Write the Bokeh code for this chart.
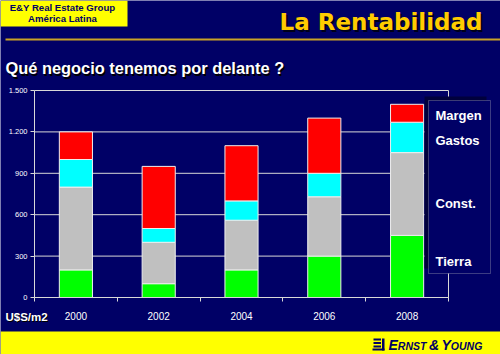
from bokeh.plotting import figure
from bokeh.models import (Range1d, LinearAxis, FixedTicker, Label, BoxAnnotation,
                          ColumnDataSource)
from bokeh.embed import file_html
from bokeh.resources import INLINE

# ---- data ----
years = ["2000", "2002", "2004", "2006", "2008"]
tierra = [200, 100, 200, 300, 450]
const = [600, 300, 360, 430, 600]
gastos = [200, 100, 140, 170, 220]
margen = [200, 450, 400, 400, 130]
series = ["Tierra", "Const.", "Gastos", "Margen"]
colors = ["#00FF00", "#C0C0C0", "#00FFFF", "#FF0000"]
y_ticks = [0, 300, 600, 900, 1200, 1500]
y_tick_labels = ["0", "300", "600", "900", "1.200", "1.500"]
title = "La Rentabilidad"
subtitle = "Qué negocio tenemos por delante ?"
header = ["E&Y Real Estate Group", "América Latina"]
unit_label = "U$S/m2"
brand_parts = ["E", "RNST", "&", "Y", "OUNG"]

NAVY = "#000066"
GRID = "#d8d8d8"

# ---- layout (pixels) ----
W, H = 500, 354
PL, PR, PT, PB = 34, 448, 90, 297          # plot area on the canvas
n = len(years)
ymax = y_ticks[-1]
px_per_cat = (PR - PL) / n
px_per_unit = (PB - PT) / ymax
x_range = Range1d(-0.5 - PL / px_per_cat, -0.5 + (W - PL) / px_per_cat)
y_range = Range1d(-(H - PB) / px_per_unit, ymax + PT / px_per_unit)

x_pos = list(range(n))
src = ColumnDataSource(dict(x=x_pos, **{"Tierra": tierra, "Const.": const,
                                         "Gastos": gastos, "Margen": margen}))

p = figure(width=W, height=H, output_backend="svg", toolbar_location=None,
           x_range=x_range, y_range=y_range, min_border=0,
           background_fill_color=NAVY, border_fill_color=NAVY,
           outline_line_color=None, x_axis_type=None, y_axis_type=None)

# grid lines and plot-area border
p.segment(x0=-0.5, x1=n - 0.5, y0=y_ticks, y1=y_ticks, line_color=GRID, line_width=1)
p.segment(x0=n - 0.5, x1=n - 0.5, y0=0, y1=ymax, line_color=GRID, line_width=1)

# bars
p.vbar_stack(series, x="x", width=0.4, fill_color=colors, line_color="#eeeeee",
             line_width=1, source=src)

# axes
yticker = FixedTicker(ticks=y_ticks)
yaxis = LinearAxis(ticker=yticker, fixed_location=-0.5, bounds=(0, ymax),
                   major_label_overrides={t: l for t, l in zip(y_ticks, y_tick_labels)},
                   axis_line_color=GRID, major_tick_line_color=GRID,
                   major_tick_out=4, major_tick_in=0, minor_tick_line_color=None,
                   major_label_text_color="white", major_label_text_font_size="7.5px",
                   major_label_text_font="Liberation Sans", major_label_standoff=3)
p.add_layout(yaxis, "left")

xticker = FixedTicker(ticks=x_pos, minor_ticks=[i - 0.5 for i in range(n + 1)])
xaxis = LinearAxis(ticker=xticker, fixed_location=0, bounds=(-0.5, n - 0.5),
                   major_label_overrides={i: y for i, y in zip(x_pos, years)},
                   axis_line_color=GRID, major_tick_line_color=None,
                   major_tick_out=0, major_tick_in=0,
                   minor_tick_line_color=GRID, minor_tick_out=4, minor_tick_in=0,
                   major_label_text_color="white", major_label_text_font_size="10px",
                   major_label_text_font="Liberation Sans", major_label_standoff=10)
p.add_layout(xaxis, "below")

C = dict(x_units="canvas", y_units="canvas")
B = dict(left_units="canvas", right_units="canvas", top_units="canvas", bottom_units="canvas")


def box(l, r, t, b, color, **kw):
    p.add_layout(BoxAnnotation(left=l, right=r, top=t, bottom=b, fill_color=color,
                               fill_alpha=1, line_color=kw.pop("line_color", None), **kw, **B))


# header box
box(0, 127, 0, 26, "#FFFF00")
for txt, yy in zip(header, [7, 18]):
    p.add_layout(Label(x=62, y=yy, text=txt, text_align="center", text_baseline="middle",
                       text_font="Liberation Sans", text_font_style="bold",
                       text_font_size="9.6px", text_color=NAVY, **C))

# title with shadow
p.add_layout(Label(x=484, y=23, text=title, text_align="right", text_baseline="alphabetic",
                   text_font="DejaVu Sans", text_font_style="bold", text_font_size="23px",
                   text_color="#00001a", **C))
p.add_layout(Label(x=482, y=21, text=title, text_align="right", text_baseline="alphabetic",
                   text_font="DejaVu Sans", text_font_style="bold", text_font_size="23px",
                   text_color="#FFCC00", **C))

# gold rule
box(5, 500, 38, 40, "#C9A227")

# subtitle with shadow
for dx, col in [(1.5, "#000000"), (0, "white")]:
    p.add_layout(Label(x=5 + dx, y=67.5 + dx, text=subtitle, text_align="left",
                       text_baseline="alphabetic", text_font="Liberation Sans",
                       text_font_style="bold", text_font_size="16.4px", text_color=col, **C))

# unit label
for dx, col in [(1, "#000000"), (0, "white")]:
    p.add_layout(Label(x=5 + dx, y=316 + dx, text=unit_label, text_align="left",
                       text_baseline="middle", text_font="Liberation Sans",
                       text_font_style="bold", text_font_size="11.5px", text_color=col, **C))

# legend box
box(424, 486, 96, 268, "#00003C")
box(428, 490, 100, 273, NAVY, line_color="#c8c8c8", line_width=1)
legend_y = {"Margen": 115, "Gastos": 140, "Const.": 203, "Tierra": 261}
for name in series:
    p.add_layout(Label(x=435, y=legend_y[name], text=name, text_align="left",
                       text_baseline="middle", text_font="Liberation Sans",
                       text_font_style="bold", text_font_size="13px", text_color="white", **C))

# footer
box(0, 500, 331, 354, "#FFFF00")
# logo mark: three bars, an upright and a base
for yy in (338, 341.5, 345):
    box(373, 380.5, yy, yy + 2, NAVY)
box(381.5, 384, 338, 350, NAVY)
box(372, 384, 348, 350, NAVY)
# word mark in small caps
widths = {"E": 0.667, "R": 0.722, "N": 0.722, "S": 0.667, "T": 0.611, "&": 0.722,
          "Y": 0.667, "O": 0.778, "U": 0.722, "G": 0.778}
xx = 388
for part in brand_parts:
    big = part in ("E", "Y", "&")
    size = 14 if big else 10.5
    p.add_layout(Label(x=xx, y=344.1 if big else 345.3, text=part, text_align="left",
                       text_baseline="middle", text_font="Liberation Sans",
                       text_font_style="bold italic", text_font_size=f"{size}px",
                       text_color=NAVY, **C))
    xx += sum(widths[ch] for ch in part) * size + (2.5 if part in ("RNST", "&") else 0)

open("out.html", "w").write(file_html(p, INLINE))
